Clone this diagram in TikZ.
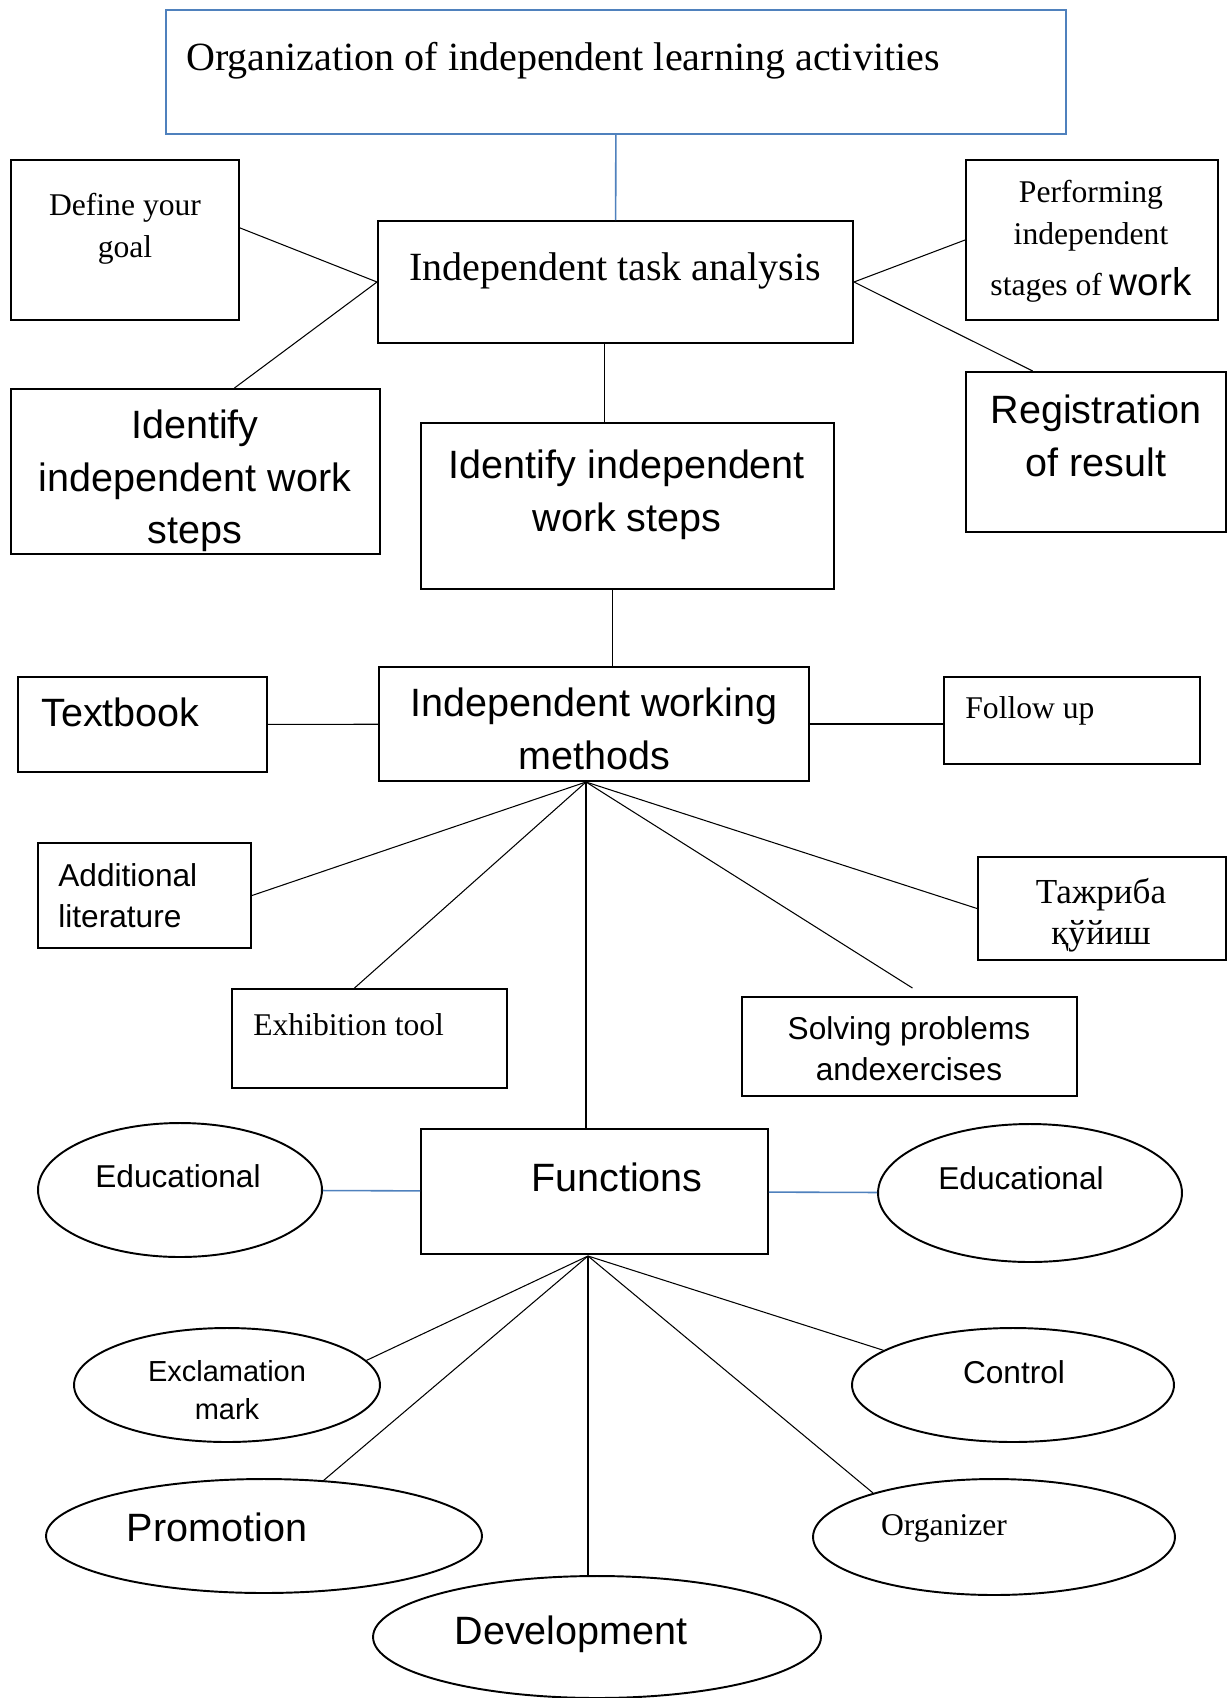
\documentclass[tikz,border=0pt]{standalone}
\usepackage{fontspec}
\setmainfont{Liberation Serif}
\setsansfont{Liberation Sans}
\usetikzlibrary{fit, calc, shapes.geometric}
\definecolor{wordblue}{RGB}{79,129,189}

\begin{document}
\begin{tikzpicture}[x=0.02cm, y=-0.02cm]
\tikzset{
    box/.style={draw=black, line width=1.1pt, inner sep=0pt},
    titlebox/.style={draw=wordblue, line width=1.1pt, inner sep=0pt},
    oval/.style={draw=black, ellipse, line width=1.1pt, inner sep=0pt},
    link/.style={draw=black, line width=0.6pt},
    bluelink/.style={draw=wordblue, line width=0.9pt},
    serif/.style={font=\fontsize{18}{23.8}\selectfont, align=center, inner sep=0pt},
    bigserif/.style={font=\fontsize{22.8}{27}\selectfont, align=center, inner sep=0pt},
    sans/.style={font=\sffamily\fontsize{18}{23.2}\selectfont, align=center, inner sep=0pt},
    bigsans/.style={font=\sffamily\fontsize{22.5}{30}\selectfont, align=center, inner sep=0pt},
  }
\useasboundingbox (0,0) rectangle (1230,1698);

\node (title) [titlebox, fit={(166,10) (1066,134)}] {};
\node (task) [box, fit={(378,221) (853,343)}] {};
\node (goal) [box, fit={(11,160) (239,320)}] {};
\node (perform) [box, fit={(966,160) (1218,320)}] {};
\node (steps_left) [box, fit={(11,389) (380,554)}] {};
\node (work_steps) [box, fit={(421,423) (834,589)}] {};
\node (registration) [box, fit={(966,372) (1226,532)}] {};
\node (methods) [box, fit={(379,667) (809,781)}] {};
\node (textbook) [box, fit={(18,677) (267,772)}] {};
\node (follow) [box, fit={(944,677) (1200,764)}] {};
\node (additional) [box, fit={(38,843) (251,948)}] {};
\node (exhibition) [box, fit={(232,989) (507,1088)}] {};
\node (solving) [box, fit={(742,997) (1077,1096)}] {};
\node (tajriba) [box, fit={(978,857) (1226,960)}] {};
\node (functions) [box, fit={(421,1129) (768,1254)}] {};

\node (edu_left) [oval, minimum width=5.68cm, minimum height=2.68cm] at (180,1190) {};
\node (edu_right) [oval, minimum width=6.08cm, minimum height=2.76cm] at (1030,1193) {};
\node (exclamation) [oval, minimum width=6.12cm, minimum height=2.28cm] at (227,1385) {};
\node (control) [oval, minimum width=6.44cm, minimum height=2.28cm] at (1013,1385) {};
\node (promotion) [oval, minimum width=8.72cm, minimum height=2.28cm] at (264,1536) {};
\node (development) [oval, minimum width=8.96cm, minimum height=2.44cm] at (597,1637) {};
\node (organizer) [oval, minimum width=7.24cm, minimum height=2.32cm] at (994,1537) {};

\node (title_label) [bigserif, anchor=west] at (186,61) {Organization of independent learning activities};
\node (task_label) [bigserif] at (615,271) {Independent task analysis};
\node (goal_label) [serif] at (125,229) {Define your\\goal};
\node (perform_label) [serif, anchor=north] at (1091,180) {Performing\\independent\\[5pt]stages of {\sffamily\fontsize{22}{24}\selectfont work}};
\node (steps_left_label) [bigsans] at (195,481) {Identify\\independent work\\steps};
\node (work_steps_label) [bigsans] at (627,495) {Identify independent\\work steps};
\node (registration_label) [bigsans] at (1096,436) {Registration\\of result};
\node (methods_label) [bigsans] at (594,729) {Independent working\\methods};
\node (textbook_label) [bigsans, anchor=west] at (41,712) {Textbook};
\node (follow_label) [serif, anchor=west] at (965,711) {Follow up};
\node (additional_label) [sans, align=left, anchor=west] at (58,896) {Additional\\literature};
\node (exhibition_label) [serif, anchor=west] at (253,1025) {Exhibition tool};
\node (solving_label) [sans] at (909,1049) {Solving problems\\andexercises};
\node (tajriba_label) [serif, font=\fontsize{20}{23.2}\selectfont] at (1101,915) {Тажриба\\қўйиш};
\node (functions_label) [bigsans] at (617,1177) {Functions};
\node (edu_left_label) [sans] at (178,1176) {Educational};
\node (edu_right_label) [sans] at (1021,1178) {Educational};
\node (exclamation_label) [sans, font=\sffamily\fontsize{16.5}{21.5}\selectfont] at (227,1390) {Exclamation\\mark};
\node (control_label) [sans] at (1014,1372) {Control};
\node (promotion_label) [bigsans] at (217,1527) {Promotion};
\node (development_label) [bigsans] at (571,1634) {Development};
\node (organizer_label) [serif] at (944,1528) {Organizer};

\coordinate (methods_hub) at (586,782);
\coordinate (functions_hub) at (588,1256);
\draw[bluelink] (title) -- (task);
\draw[link] (goal.6) -- (task.west) -- (steps_left.65);
\draw[link] (perform.west) -- (task.east) -- (registration.128);
\draw[link] (task.260) -- (task.260 |- work_steps.north);
\draw[link] (work_steps.260) -- (work_steps.260 |- methods.north);
\draw[link] (textbook) -- (methods);
\draw[link] (methods.east) -- (methods.east -| follow.west);
\draw[link] (methods_hub) -- (additional.east);
\draw[link] (methods_hub) -- ($(exhibition.north)+(-15,0)$);
\draw[link] (methods_hub) -- (methods_hub |- functions.north);
\draw[link] (methods_hub) -- ($(solving.north)+(3,-8)$);
\draw[link] (methods_hub) -- (tajriba.west);
\draw[bluelink] (edu_left) -- (functions);
\draw[bluelink] (functions) -- (edu_right);
\draw[link] (functions_hub) -- (exclamation.10);
\draw[link] (functions_hub) -- (promotion.43);
\draw[link] (functions_hub) -- (functions_hub |- development.north);
\draw[link] (functions_hub) -- (organizer.160);
\draw[link] (functions_hub) -- (control.165);
\end{tikzpicture}
\end{document}
